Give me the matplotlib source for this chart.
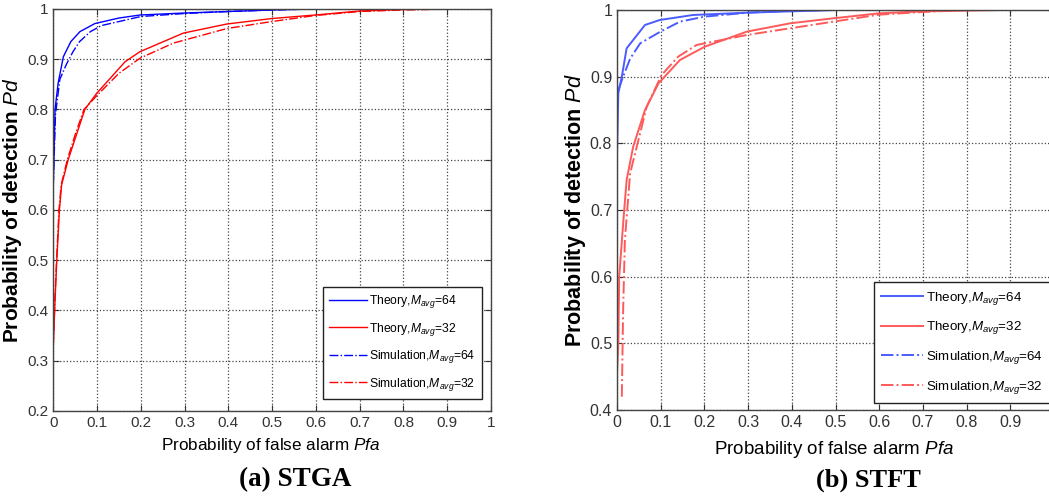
#!/usr/bin/env python3
"""ROC curves: STGA vs STFT, theory and simulation."""

import numpy as np
import matplotlib
matplotlib.use('Agg')
import matplotlib.pyplot as plt

plt.rcParams['font.family'] = ['Liberation Sans', 'DejaVu Sans']
plt.rcParams['mathtext.fontset'] = 'custom'
plt.rcParams['mathtext.it'] = 'Liberation Sans:italic'
plt.rcParams['mathtext.rm'] = 'Liberation Sans'

# ---- (a) STGA ----
stga_pfa_th64 = [0.0, 0.004, 0.011, 0.023, 0.04, 0.061, 0.095, 0.15, 0.198, 0.30, 0.40, 0.50, 0.59]
stga_pd_th64 = [0.65, 0.80, 0.852, 0.905, 0.935, 0.955, 0.971, 0.982, 0.988, 0.992, 0.995, 0.998, 1.0]
stga_pfa_sim64 = [0.0, 0.005, 0.015, 0.03, 0.045, 0.06, 0.085, 0.11, 0.20, 0.30, 0.40, 0.50, 0.60]
stga_pd_sim64 = [0.65, 0.79, 0.86, 0.89, 0.915, 0.935, 0.955, 0.967, 0.985, 0.991, 0.995, 0.998, 1.0]
stga_pfa_th32 = [0.0, 0.004, 0.008, 0.014, 0.019, 0.034, 0.053, 0.072, 0.099, 0.164, 0.198,
                 0.297, 0.396, 0.499, 0.598, 0.70, 0.80, 0.906]
stga_pd_th32 = [0.33, 0.42, 0.50, 0.60, 0.65, 0.70, 0.75, 0.80, 0.832, 0.895, 0.915,
                0.952, 0.970, 0.981, 0.988, 0.996, 0.999, 1.0]
stga_pfa_sim32 = [0.0, 0.004, 0.008, 0.013, 0.018, 0.032, 0.05, 0.07, 0.10, 0.15, 0.198,
                  0.274, 0.396, 0.499, 0.598, 0.70, 0.80, 0.92]
stga_pd_sim32 = [0.33, 0.43, 0.51, 0.60, 0.65, 0.70, 0.75, 0.80, 0.828, 0.872, 0.902,
                 0.932, 0.961, 0.975, 0.987, 0.995, 0.998, 1.0]

# ---- (b) STFT ----
stft_pfa_th64 = [0.0, 0.003, 0.011, 0.022, 0.064, 0.098, 0.174, 0.30, 0.40, 0.50]
stft_pd_th64 = [0.785, 0.875, 0.90, 0.9425, 0.9775, 0.985, 0.9925, 0.996, 0.998, 1.0]
stft_pfa_sim64 = [0.003, 0.014, 0.03, 0.053, 0.098, 0.144, 0.20, 0.30, 0.40, 0.50]
stft_pd_sim64 = [0.88, 0.90, 0.927, 0.95, 0.967, 0.9825, 0.99, 0.996, 0.999, 1.0]
stft_pfa_th32 = [0.0, 0.003, 0.005, 0.015, 0.022, 0.037, 0.064, 0.095, 0.144, 0.201, 0.297,
                 0.396, 0.495, 0.60, 0.70, 0.884]
stft_pd_th32 = [0.455, 0.50, 0.60, 0.688, 0.745, 0.795, 0.85, 0.89, 0.925, 0.945, 0.9675,
                0.98, 0.9875, 0.995, 0.998, 1.0]
stft_pfa_sim32 = [0.011, 0.014, 0.018, 0.03, 0.049, 0.068, 0.102, 0.14, 0.182, 0.297, 0.396,
                  0.495, 0.60, 0.70, 0.80]
stft_pd_sim32 = [0.42, 0.55, 0.655, 0.755, 0.805, 0.855, 0.9025, 0.93, 0.9475, 0.9625, 0.9725,
                 0.9825, 0.993, 0.997, 1.0]

x_ticks = np.round(np.arange(0, 1.01, 0.1), 1)
x_ticklabels = ['0', '0.1', '0.2', '0.3', '0.4', '0.5', '0.6', '0.7', '0.8', '0.9', '1']
stga_yticks = np.round(np.arange(0.2, 1.01, 0.1), 1)
stga_yticklabels = ['0.2', '0.3', '0.4', '0.5', '0.6', '0.7', '0.8', '0.9', '1']
stft_yticks = np.round(np.arange(0.4, 1.01, 0.1), 1)
stft_yticklabels = ['0.4', '0.5', '0.6', '0.7', '0.8', '0.9', '1']

labels = [r'Theory,$M_{avg}$=$\mathit{64}$',
          r'Theory,$M_{avg}$=$\mathit{32}$',
          r'Simulation,$M_{avg}$=$\mathit{64}$',
          r'Simulation,$M_{avg}$=$\mathit{32}$']


def style_axes(ax, yticks, yticklabels, fs):
    ax.set_xlim(0, 1)
    ax.set_ylim(yticks[0], 1)
    ax.set_xticks(x_ticks)
    ax.set_xticklabels(x_ticklabels)
    ax.set_yticks(yticks)
    ax.set_yticklabels(yticklabels)
    ax.tick_params(direction='in', top=True, right=True, length=4, width=0.8,
                   labelsize=fs, labelcolor='#333333', color='#333333')
    ax.grid(True, linestyle=':', color='#444444', linewidth=0.9)
    for sp in ax.spines.values():
        sp.set_color('#444444')
        sp.set_linewidth(1.0)


fig = plt.figure(figsize=(10.49, 4.99), dpi=100)

# (a) STGA
ax1 = fig.add_axes([0.0508, 0.1764, 0.4173, 0.8056])
ax1.plot(stga_pfa_th64, stga_pd_th64, '-', color='#0000ff', linewidth=1.0, label=labels[0])
ax1.plot(stga_pfa_th32, stga_pd_th32, '-', color='#ff0000', linewidth=1.0, label=labels[1])
ax1.plot(stga_pfa_sim64, stga_pd_sim64, '-.', color='#0000ff', linewidth=1.0, label=labels[2])
ax1.plot(stga_pfa_sim32, stga_pd_sim32, '-.', color='#ff0000', linewidth=1.0, label=labels[3])
style_axes(ax1, stga_yticks, stga_yticklabels, 11)
ax1.set_xlabel('Probability of false alarm $\\mathit{Pfa}$', fontsize=12.3)
ax1.set_ylabel('Probability of detection $\\mathit{Pd}$', fontsize=15, fontweight='bold')
ax1.xaxis.set_label_coords(0.497, -0.063)
ax1.yaxis.set_label_coords(-0.068, 0.5)
leg1 = ax1.legend(loc='lower right', bbox_to_anchor=(0.979, 0.03), borderaxespad=0,
                  fontsize=8.75, handlelength=3.1, handletextpad=0.2, labelspacing=0.87,
                  borderpad=0.5, fancybox=False, framealpha=1, edgecolor='#222222')
leg1.get_frame().set_linewidth(1.0)

# (b) STFT
ax2 = fig.add_axes([0.5882, 0.1784, 0.4166, 0.8016])
ax2.plot(stft_pfa_th64, stft_pd_th64, '-', color='#4a5cff', linewidth=1.4, label=labels[0])
ax2.plot(stft_pfa_th32, stft_pd_th32, '-', color='#ff5a5a', linewidth=1.4, label=labels[1])
ax2.plot(stft_pfa_sim64, stft_pd_sim64, '-.', color='#4a5cff', linewidth=1.4, label=labels[2])
ax2.plot(stft_pfa_sim32, stft_pd_sim32, '-.', color='#ff5a5a', linewidth=1.4, label=labels[3])
style_axes(ax2, stft_yticks, stft_yticklabels, 11.5)
ax2.set_xlabel('Probability of false alarm $\\mathit{Pfa}$', fontsize=13.5)
ax2.set_ylabel('Probability of detection $\\mathit{Pd}$', fontsize=15.5, fontweight='bold')
ax2.xaxis.set_label_coords(0.497, -0.073)
ax2.yaxis.set_label_coords(-0.066, 0.5)
leg2 = ax2.legend(loc='lower left', bbox_to_anchor=(0.588, 0.0175), borderaxespad=0,
                  fontsize=9.6, handlelength=3.15, handletextpad=0.2, labelspacing=0.95,
                  borderpad=0.55, fancybox=False, framealpha=1, edgecolor='#222222')
leg2.get_frame().set_linewidth(1.0)

fig.text(0.281, 0.038, '(a) STGA', ha='center', va='center', fontsize=19.5,
         fontweight='bold', family='Liberation Serif')
fig.text(0.828, 0.038, '(b) STFT', ha='center', va='center', fontsize=19,
         fontweight='bold', family='Liberation Serif')

fig.savefig('out.png', dpi=100)
